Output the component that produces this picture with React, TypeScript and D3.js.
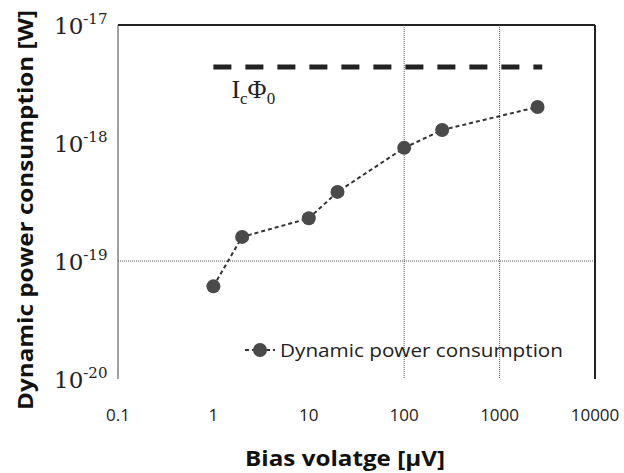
import {useEffect, useRef} from 'react';
import * as d3 from 'd3';

// Bias voltage [uV] and dynamic power consumption [W]
const biasVoltage = [1, 2, 10, 20, 100, 250, 2500];
const powerValues = [6.1e-20, 1.6e-19, 2.3e-19, 3.85e-19, 9.1e-19, 1.29e-18, 2.02e-18];

// I_c * Phi_0 reference level
const icPhi0Level = 4.4e-18;
const icPhi0Range = [1, 2800];

const xTicks = [0.1, 1, 10, 100, 1000, 10000];
const xTickLabels = ['0.1', '1', '10', '100', '1000', '10000'];
const yTicks = [1e-17, 1e-18, 1e-19, 1e-20];
const yTickExps = ['-17', '-18', '-19', '-20'];
const xGrid = [100, 1000];
const yGrid = [1e-19];

const W = 624;
const H = 473;

const App = () => {
  const svgRef = useRef<SVGSVGElement>(null);

  useEffect(() => {
    const svg = d3.select(svgRef.current);
    svg.selectAll('*').remove();

    const margin = {top: 25, right: 29, bottom: 94, left: 118};
    const innerWidth = W - margin.left - margin.right;
    const innerHeight = H - margin.top - margin.bottom;

    const x = d3.scaleLog().domain([0.1, 10000]).range([0, innerWidth]);
    const y = d3.scaleLog().domain([1e-20, 1e-17]).range([innerHeight, 0]);

    const g = svg.append('g').attr('transform', `translate(${margin.left},${margin.top})`);

    // grid
    g.selectAll('.vgrid')
      .data(xGrid)
      .enter().append('line')
      .attr('x1', d => x(d)).attr('x2', d => x(d))
      .attr('y1', 0).attr('y2', innerHeight)
      .attr('stroke', '#555')
      .attr('stroke-width', 1)
      .attr('stroke-dasharray', '1,1');
    g.selectAll('.hgrid')
      .data(yGrid)
      .enter().append('line')
      .attr('x1', 0).attr('x2', innerWidth)
      .attr('y1', d => y(d)).attr('y2', d => y(d))
      .attr('stroke', '#555')
      .attr('stroke-width', 1)
      .attr('stroke-dasharray', '1,1');

    // frame
    g.append('line').attr('x1', 0).attr('x2', 0).attr('y1', 0).attr('y2', innerHeight)
      .attr('stroke', '#444').attr('stroke-width', 1);
    g.append('line').attr('x1', 0).attr('x2', innerWidth).attr('y1', 0).attr('y2', 0)
      .attr('stroke', '#222').attr('stroke-width', 2);
    g.append('line').attr('x1', innerWidth).attr('x2', innerWidth).attr('y1', 0).attr('y2', innerHeight)
      .attr('stroke', '#222').attr('stroke-width', 2);

    // IcPhi0 level
    g.append('line')
      .attr('x1', x(icPhi0Range[0])).attr('x2', x(icPhi0Range[1]))
      .attr('y1', y(icPhi0Level)).attr('y2', y(icPhi0Level))
      .attr('stroke', '#222')
      .attr('stroke-width', 5)
      .attr('stroke-dasharray', '18,14');

    const lbl = g.append('text')
      .attr('x', x(1) + 18)
      .attr('y', y(icPhi0Level) + 31)
      .style('font-family', '"Liberation Serif", serif')
      .style('font-size', '26px')
      .attr('fill', '#222');
    lbl.append('tspan').text('I');
    lbl.append('tspan').attr('dy', 6).style('font-size', '17px').text('c');
    lbl.append('tspan').attr('dy', -6).text('Φ');
    lbl.append('tspan').attr('dy', 6).style('font-size', '17px').text('0');

    // data line
    const line = d3.line<number>()
      .x((d, i) => x(biasVoltage[i]))
      .y(d => y(d));

    g.append('path')
      .datum(powerValues)
      .attr('fill', 'none')
      .attr('stroke', '#333')
      .attr('stroke-width', 2)
      .attr('stroke-dasharray', '4,3')
      .attr('d', line);

    g.selectAll('.point')
      .data(powerValues)
      .enter().append('circle')
      .attr('cx', (d, i) => x(biasVoltage[i]))
      .attr('cy', d => y(d))
      .attr('r', 7)
      .attr('fill', '#4a4a4a');

    // x tick labels
    g.selectAll('.xtick')
      .data(xTicks)
      .enter().append('text')
      .attr('x', d => x(d))
      .attr('y', innerHeight + 42)
      .attr('text-anchor', 'middle')
      .style('font-family', '"Open Sans", sans-serif')
      .style('font-size', '17px')
      .attr('fill', '#222')
      .text((d, i) => xTickLabels[i]);

    // y tick labels
    yTicks.forEach((t, i) => {
      const tx = g.append('text')
        .attr('x', -64)
        .attr('y', y(t) + 9)
        .style('font-family', '"DejaVu Serif", serif')
        .style('font-size', '23px')
        .attr('fill', '#222');
      tx.append('tspan').text('10');
      tx.append('tspan').attr('dy', -10).style('font-size', '15px').text(yTickExps[i]);
    });

    // legend
    const lx = 127;
    const ly = 325;
    g.append('line').attr('x1', lx).attr('x2', lx + 30).attr('y1', ly).attr('y2', ly)
      .attr('stroke', '#333').attr('stroke-width', 2).attr('stroke-dasharray', '4,3');
    g.append('circle').attr('cx', lx + 15).attr('cy', ly).attr('r', 7).attr('fill', '#4a4a4a');
    g.append('text')
      .attr('x', lx + 35)
      .attr('y', ly + 7)
      .attr('textLength', 283)
      .attr('lengthAdjust', 'spacingAndGlyphs')
      .style('font-family', '"Open Sans", sans-serif')
      .style('font-size', '19px')
      .attr('fill', '#222')
      .text('Dynamic power consumption');

    // axis titles
    svg.append('text')
      .attr('x', 345)
      .attr('y', 466)
      .attr('text-anchor', 'middle')
      .attr('textLength', 200)
      .attr('lengthAdjust', 'spacingAndGlyphs')
      .style('font-family', '"Open Sans", sans-serif')
      .style('font-weight', 'bold')
      .style('font-size', '22px')
      .attr('fill', '#111')
      .text('Bias volatge [μV]');

    svg.append('text')
      .attr('transform', `translate(33, ${210}) rotate(-90)`)
      .attr('text-anchor', 'middle')
      .attr('textLength', 400)
      .attr('lengthAdjust', 'spacingAndGlyphs')
      .style('font-family', '"Open Sans", sans-serif')
      .style('font-weight', 'bold')
      .style('font-size', '22px')
      .attr('fill', '#111')
      .text('Dynamic power consumption [W]');
  }, []);

  return <svg ref={svgRef} width={W} height={H} style={{display: 'block', position: 'absolute', left: 0, top: 0, background: '#fff'}} />;
};

export default App;
